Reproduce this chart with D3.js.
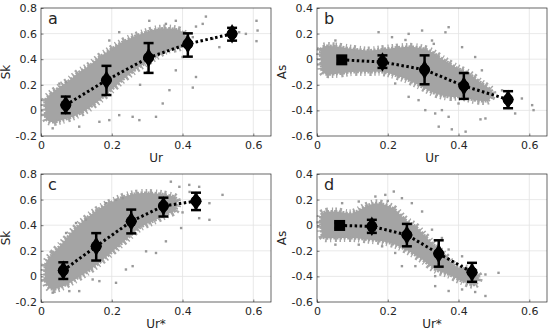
<!DOCTYPE html>
<html>
<head>
<meta charset="utf-8">
<script src="https://cdn.jsdelivr.net/npm/d3@7"></script>
<style>
  body { margin: 0; background: #fff; }
  text { font-family: "DejaVu Sans", sans-serif; fill: #262626; }
</style>
</head>
<body>
<svg id="chart" width="550" height="334"></svg>
<script>
// ---- data ----
var xTicks = [0, 0.2, 0.4, 0.6];
var skTicks = [-0.2, 0, 0.2, 0.4, 0.6, 0.8];
var asTicks = [-0.6, -0.4, -0.2, 0, 0.2, 0.4];

// bin means with error bars [x, mean, lo, hi]
var meanA = [[0.070, 0.042, -0.022, 0.108], [0.185, 0.236, 0.120, 0.348], [0.304, 0.412, 0.293, 0.526], [0.415, 0.520, 0.420, 0.602], [0.540, 0.598, 0.545, 0.645]];
var meanB = [[0.070, -0.005, -0.035, 0.022], [0.185, -0.022, -0.068, 0.030], [0.304, -0.082, -0.196, 0.030], [0.415, -0.209, -0.310, -0.108], [0.540, -0.315, -0.383, -0.250]];
var meanC = [[0.063, 0.047, -0.020, 0.110], [0.156, 0.235, 0.124, 0.338], [0.255, 0.430, 0.336, 0.522], [0.346, 0.550, 0.468, 0.615], [0.438, 0.588, 0.518, 0.654]];
var meanD = [[0.064, -0.002, -0.022, 0.018], [0.155, -0.009, -0.060, 0.042], [0.254, -0.076, -0.165, 0.010], [0.344, -0.222, -0.324, -0.118], [0.438, -0.367, -0.442, -0.294]];

// outline of the dense cloud of samples
var cloudA = [[0.012, 0.08], [0.028, 0.13], [0.052, 0.18], [0.08, 0.235], [0.108, 0.30], [0.137, 0.35], [0.165, 0.417], [0.193, 0.468], [0.221, 0.52], [0.259, 0.572], [0.297, 0.611], [0.334, 0.637], [0.372, 0.637], [0.40, 0.611], [0.41, 0.546],
  [0.391, 0.494], [0.353, 0.468], [0.316, 0.404], [0.278, 0.339], [0.24, 0.261], [0.203, 0.17], [0.165, 0.08], [0.127, 0.002], [0.089, -0.05], [0.052, -0.081], [0.028, -0.09], [0.015, -0.07], [0.012, 0.0]];
var cloudB = [[0.014, 0.09], [0.052, 0.10], [0.099, 0.081], [0.146, 0.068], [0.193, 0.081], [0.24, 0.094], [0.278, 0.094], [0.316, 0.068], [0.353, 0.004], [0.391, -0.061], [0.429, -0.113], [0.466, -0.19], [0.495, -0.255],
  [0.485, -0.32], [0.447, -0.32], [0.41, -0.294], [0.372, -0.294], [0.334, -0.268], [0.297, -0.217], [0.259, -0.165], [0.221, -0.126], [0.184, -0.10], [0.146, -0.10], [0.099, -0.10], [0.052, -0.115], [0.018, -0.108], [0.012, -0.048]];
var cloudC = [[0.014, 0.106], [0.035, 0.183], [0.061, 0.261], [0.089, 0.352], [0.118, 0.43], [0.146, 0.494], [0.174, 0.546], [0.203, 0.585], [0.24, 0.629], [0.278, 0.65], [0.316, 0.65], [0.353, 0.637], [0.381, 0.611],
  [0.381, 0.52], [0.353, 0.481], [0.316, 0.43], [0.278, 0.378], [0.24, 0.287], [0.203, 0.196], [0.165, 0.106], [0.127, 0.028], [0.089, -0.037], [0.052, -0.089], [0.028, -0.098], [0.014, -0.05]];
var cloudD = [[0.014, 0.09], [0.052, 0.107], [0.099, 0.094], [0.137, 0.146], [0.165, 0.172], [0.193, 0.159], [0.221, 0.12], [0.25, 0.042], [0.278, -0.009], [0.306, -0.087], [0.334, -0.165], [0.363, -0.243], [0.391, -0.32], [0.429, -0.346], [0.457, -0.398],
  [0.447, -0.463], [0.41, -0.437], [0.372, -0.385], [0.334, -0.346], [0.297, -0.268], [0.259, -0.204], [0.221, -0.152], [0.184, -0.126], [0.146, -0.113], [0.099, -0.10], [0.052, -0.10], [0.018, -0.095], [0.012, -0.035]];

// scattered samples outside the dense cloud
var sparseA = [[0.609, 0.70], [0.612, 0.624], [0.609, 0.541], [0.579, 0.598], [0.466, 0.733], [0.457, 0.676], [0.438, 0.655], [0.429, 0.572], [0.504, 0.494], [0.438, 0.261], [0.429, 0.178], [0.381, 0.313], [0.363, 0.158], [0.344, 0.054], [0.325, -0.05], [0.278, -0.076], [0.259, -0.05], [0.221, -0.037], [0.193, -0.076], [0.165, -0.089], [0.108, -0.127], [0.033, -0.14], [0.221, 0.611], [0.193, 0.546], [0.052, 0.209], [0.071, 0.222], [0.306, 0.70], [0.353, 0.676], [0.381, 0.70], [0.541, 0.65], [0.56, 0.611], [0.485, 0.559], [0.40, 0.417], [0.41, 0.60], [0.30, 0.30], [0.28, 0.20]];
var sparseB = [[0.372, 0.25], [0.363, 0.21], [0.297, 0.224], [0.259, 0.198], [0.174, 0.211], [0.212, 0.172], [0.325, 0.146], [0.41, 0.094], [0.447, 0.017], [0.344, -0.527], [0.372, -0.45], [0.334, -0.424], [0.40, -0.346], [0.476, -0.463], [0.462, -0.47], [0.42, -0.566], [0.381, -0.548], [0.579, -0.307], [0.608, -0.359], [0.612, -0.398], [0.56, -0.424], [0.287, -0.32], [0.259, -0.294], [0.221, -0.19], [0.466, -0.087], [0.523, -0.243], [0.306, -0.398], [0.353, -0.398], [0.052, 0.146], [0.25, 0.15], [0.33, 0.12]];
var sparseC = [[0.367, 0.74], [0.391, 0.70], [0.419, 0.715], [0.447, 0.70], [0.513, 0.637], [0.476, 0.572], [0.476, 0.442], [0.447, 0.455], [0.396, 0.378], [0.353, 0.274], [0.325, 0.183], [0.297, 0.196], [0.259, 0.08], [0.24, 0.054], [0.212, -0.05], [0.165, -0.037], [0.146, -0.024], [0.108, -0.115], [0.08, -0.115], [0.033, -0.127], [0.212, 0.598], [0.127, 0.443], [0.099, 0.417], [0.071, 0.339], [0.184, 0.572], [0.231, 0.611], [0.42, 0.66], [0.40, 0.50]];
var sparseD = [[0.217, 0.263], [0.193, 0.237], [0.165, 0.224], [0.24, 0.211], [0.118, 0.185], [0.071, 0.172], [0.297, 0.107], [0.268, 0.172], [0.325, -0.035], [0.353, -0.10], [0.372, -0.19], [0.41, -0.243], [0.513, -0.372], [0.476, -0.385], [0.476, -0.553], [0.447, -0.522], [0.372, -0.514], [0.41, -0.502], [0.334, -0.398], [0.278, -0.32], [0.24, -0.32], [0.221, -0.217], [0.184, -0.165], [0.118, -0.152], [0.052, -0.152], [0.334, -0.476], [0.20, 0.19]];

var panels = [
  { letter: "a", xl: "Ur", yl: "Sk", x0: 41, y0: 8, yDom: [-0.2, 0.8], yTicks: skTicks, mean: meanA, cloud: cloudA, sparse: sparseA, firstSquare: false },
  { letter: "b", xl: "Ur", yl: "As", x0: 317, y0: 8, yDom: [-0.6, 0.4], yTicks: asTicks, mean: meanB, cloud: cloudB, sparse: sparseB, firstSquare: true },
  { letter: "c", xl: "Ur*", yl: "Sk", x0: 41, y0: 174, yDom: [-0.2, 0.8], yTicks: skTicks, mean: meanC, cloud: cloudC, sparse: sparseC, firstSquare: false },
  { letter: "d", xl: "Ur*", yl: "As", x0: 317, y0: 174, yDom: [-0.6, 0.4], yTicks: asTicks, mean: meanD, cloud: cloudD, sparse: sparseD, firstSquare: true }
];

var W = 230, H = 128;
var svg = d3.select("#chart");
var fmt = function(d) { return String(+d.toFixed(1)); };

panels.forEach(function(p) {
  var g = svg.append("g").attr("transform", "translate(" + p.x0 + "," + p.y0 + ")");
  var x = d3.scaleLinear().domain([0, 0.65]).range([0, W]);
  var y = d3.scaleLinear().domain(p.yDom).range([H, 0]);

  // grid
  g.append("g").selectAll("line").data(xTicks.slice(1)).enter().append("line")
    .attr("x1", function(d) { return x(d); }).attr("x2", function(d) { return x(d); })
    .attr("y1", 0).attr("y2", H).attr("stroke", "#e3e3e3").attr("stroke-width", 0.8);
  g.append("g").selectAll("line").data(p.yTicks.slice(1, -1)).enter().append("line")
    .attr("x1", 0).attr("x2", W)
    .attr("y1", function(d) { return y(d); }).attr("y2", function(d) { return y(d); })
    .attr("stroke", "#e3e3e3").attr("stroke-width", 0.8);

  // sample cloud: solid core plus speckled fringe
  var cloudPath = d3.line().x(function(d) { return x(d[0]); }).y(function(d) { return y(d[1]); }).curve(d3.curveCatmullRomClosed);
  g.append("path").datum(p.cloud).attr("d", cloudPath)
    .attr("fill", "none").attr("stroke", "#a6a6a6").attr("stroke-width", 8)
    .attr("stroke-dasharray", "1.5,2.6,2.2,3.8,1.2,2.9");
  g.append("path").datum(p.cloud).attr("d", cloudPath)
    .attr("fill", "#a4a4a4").attr("stroke", "#a4a4a4").attr("stroke-width", 3)
    .attr("stroke-dasharray", "2,1.5");
  g.append("g").selectAll("rect").data(p.sparse).enter().append("rect")
    .attr("x", function(d) { return x(d[0]) - 1.2; }).attr("y", function(d) { return y(d[1]) - 1.2; })
    .attr("width", 2.4).attr("height", 2.4).attr("fill", "#999");

  // dotted mean line
  g.append("path").datum(p.mean)
    .attr("d", d3.line().x(function(d) { return x(d[0]); }).y(function(d) { return y(d[1]); }))
    .attr("fill", "none").attr("stroke", "#000").attr("stroke-width", 3)
    .attr("stroke-dasharray", "2.5,2.5");

  // error bars
  var eb = g.append("g").selectAll("g").data(p.mean).enter().append("g");
  eb.append("line")
    .attr("x1", function(d) { return x(d[0]); }).attr("x2", function(d) { return x(d[0]); })
    .attr("y1", function(d) { return y(d[2]); }).attr("y2", function(d) { return y(d[3]); })
    .attr("stroke", "#000").attr("stroke-width", 2.5);
  [2, 3].forEach(function(k) {
    eb.append("line")
      .attr("x1", function(d) { return x(d[0]) - 5; }).attr("x2", function(d) { return x(d[0]) + 5; })
      .attr("y1", function(d) { return y(d[k]); }).attr("y2", function(d) { return y(d[k]); })
      .attr("stroke", "#000").attr("stroke-width", 2.5);
  });
  eb.each(function(d, i) {
    var m = d3.select(this);
    var cx = x(d[0]), cy = y(d[1]);
    if (i === 0 && p.firstSquare) {
      m.append("rect").attr("x", cx - 5.5).attr("y", cy - 5.5).attr("width", 11).attr("height", 11).attr("fill", "#000");
    } else {
      m.append("circle").attr("cx", cx).attr("cy", cy).attr("r", 5.5).attr("fill", "#000");
      m.append("path").attr("d", d3.symbol().type(d3.symbolDiamond).size(110)())
        .attr("transform", "translate(" + cx + "," + cy + ")").attr("fill", "#000");
    }
  });

  // axes
  var ax = g.append("g").attr("transform", "translate(0," + H + ")")
    .call(d3.axisBottom(x).tickValues(xTicks).tickFormat(fmt).tickSizeInner(-2.5).tickSizeOuter(0).tickPadding(5));
  var ay = g.append("g")
    .call(d3.axisLeft(y).tickValues(p.yTicks).tickFormat(fmt).tickSizeInner(-2.5).tickSizeOuter(0).tickPadding(4));
  [ax, ay].forEach(function(a) {
    a.select(".domain").remove();
    a.selectAll("line").attr("stroke", "#262626").attr("stroke-width", 0.6);
    a.selectAll("text").attr("font-size", 11).attr("fill", "#262626").style("font-family", "DejaVu Sans");
  });
  g.append("rect").attr("width", W).attr("height", H)
    .attr("fill", "none").attr("stroke", "#262626").attr("stroke-width", 0.7);

  // labels
  g.append("text").attr("x", 7).attr("y", 16).attr("font-size", 16).text(p.letter);
  g.append("text").attr("x", W / 2).attr("y", H + 26).attr("text-anchor", "middle")
    .attr("font-size", 12).text(p.xl);
  g.append("text").attr("transform", "translate(-31," + (H / 2) + ") rotate(-90)")
    .attr("text-anchor", "middle").attr("font-size", 12).text(p.yl);
});
</script>
</body>
</html>
